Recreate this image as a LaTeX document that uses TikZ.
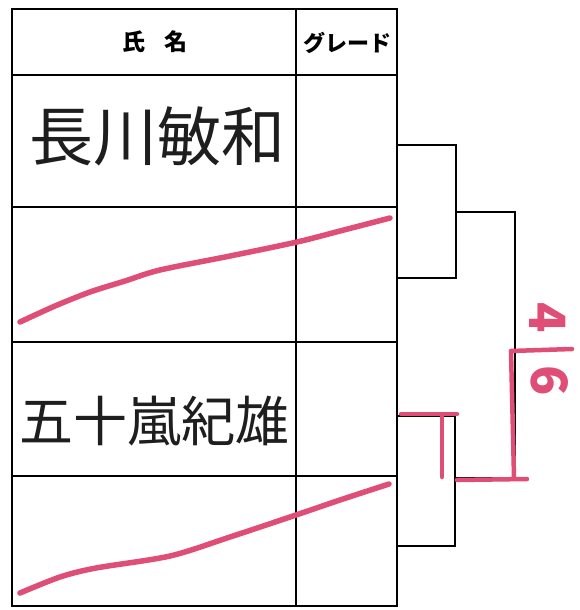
\documentclass[tikz,border=0pt]{standalone}
\usepackage{fontspec}
\newfontfamily\jp{Noto Sans CJK JP}
\definecolor{inkred}{RGB}{222,78,118}
\definecolor{inkblack}{RGB}{30,30,30}
\tikzset{
  grid/.style={draw=black, line width=1.8pt},
  bracketline/.style={draw=black, line width=1.8pt},
  redmark/.style={draw=inkred, line width=5.5pt, line cap=round, line join=round},
  header/.style={font=\jp\bfseries, inner sep=0pt},
  handname/.style={font=\jp, text=inkblack, inner sep=0pt},
  score/.style={font=\jp, text=inkred, inner sep=0pt, rotate=-90}
}
\begin{document}
\begin{tikzpicture}[x=1pt,y=-1pt]
\useasboundingbox (0,0) rectangle (580,610);
\fill[white] (0,0) rectangle (580,610);
% table corners
\coordinate (tl) at (12,9);
\coordinate (br) at (397,606);
\draw[grid] (tl) rectangle (br);
\draw[grid] (296,9) -- (296,606);
\foreach \yy in {75,207,342,476} {\draw[grid] (12,\yy) -- (397,\yy);}
% header texts
\node[header, font=\jp\bfseries\fontsize{23}{23}\selectfont] (hname) at (155,42) {氏\hspace{0.8em}名};
\node[header, font=\jp\bfseries\fontsize{22}{22}\selectfont] (hgrade) at (347,43) {グレード};
% names
\node[handname, font=\jp\fontsize{64}{64}\selectfont] (n1) at (157,136) {長川敏和};
\node[handname, font=\jp\fontsize{54}{54}\selectfont] (n3) at (154,421) {五十嵐紀雄};
% bracket coordinates
\coordinate (p1) at (397,145);
\coordinate (p2) at (397,278);
\coordinate (p3) at (397,416);
\coordinate (p4) at (397,546);
\coordinate (s1a) at (456,145);
\coordinate (s1b) at (456,278);
\coordinate (s1m) at (456,212);
\coordinate (s2a) at (455,416);
\coordinate (s2b) at (455,546);
\coordinate (s2m) at (455,478);
\coordinate (fa) at (515,212);
\coordinate (fb) at (515,478);
\draw[bracketline] (p1) -- (s1a) -- (s1b) -- (p2);
\draw[bracketline] (p3) -- (s2a) -- (s2b) -- (p4);
\draw[bracketline] (s1m) -- (fa) -- (fb) -- (s2m);
% red marks
\draw[redmark] plot[smooth, tension=0.5] coordinates {(20,322) (55,306) (90,292) (125,281) (160,270) (230,256) (297,242) (340,231) (390,218)};
\draw[redmark] plot[smooth, tension=0.5] coordinates {(20,593) (60,577) (96,568) (170,556) (230,537) (296,515) (340,500) (389,484)};
\coordinate (r1) at (401,414);
\coordinate (r2) at (457,414);
\coordinate (r3) at (442,416);
\coordinate (r4) at (442,477);
\coordinate (r5) at (457,480);
\coordinate (r6) at (527,479);
\coordinate (r7) at (514,477);
\coordinate (r8) at (511,351);
\coordinate (r9) at (572,349);
\draw[redmark, line width=4.5pt] (r1) -- (r2);
\draw[redmark, line width=4.5pt] (r3) -- (r4);
\draw[redmark, line width=4.5pt] (r5) -- (r6);
\draw[redmark, line width=4.5pt] (r7) -- (r8);
\draw[redmark, line width=4.5pt] (r8) -- (r9);
\node[score, font=\jp\bfseries\fontsize{50}{50}\selectfont] (sc4) at (548,318) {4};
\node[score, font=\jp\bfseries\fontsize{50}{50}\selectfont] (sc6) at (550,381) {6};
\end{tikzpicture}
\end{document}
